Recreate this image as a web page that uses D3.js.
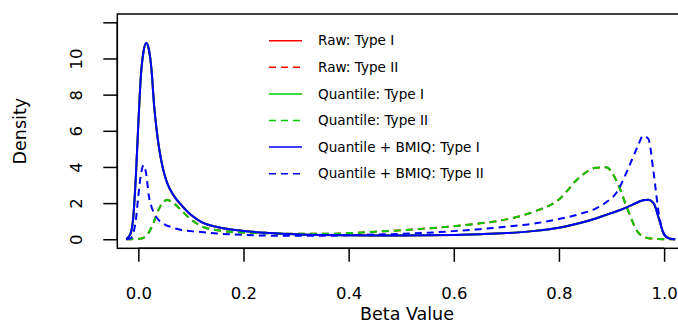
<!DOCTYPE html>
<html>
<head>
<meta charset="utf-8">
<script src="https://cdn.jsdelivr.net/npm/d3@7"></script>
<style>
  html, body { margin: 0; padding: 0; background: #fff; }
  svg { display: block; font-family: "DejaVu Sans", sans-serif; }
</style>
</head>
<body>
<svg id="chart" width="678" height="324"></svg>
<script>
// ---------------- data ----------------
const betaGrid = [-0.023, -0.015, -0.01, -0.005, 0, 0.005, 0.01, 0.015, 0.02, 0.025, 0.03, 0.035, 0.04, 0.045, 0.05, 0.055, 0.06, 0.07, 0.08, 0.1, 0.12, 0.15, 0.2, 0.25, 0.3, 0.35, 0.4, 0.45, 0.5, 0.55, 0.6, 0.65, 0.7, 0.75, 0.8, 0.84, 0.87, 0.89, 0.91, 0.93, 0.95, 0.96, 0.97, 0.98, 0.99, 1.0, 1.01, 1.021];

const bmiqTypeI = [0, 0.3, 1.1, 3.3, 6.4, 9.1, 10.4, 10.85, 10.5, 9.4, 7.4, 6.0, 4.95, 4.15, 3.55, 3.1, 2.78, 2.3, 1.95, 1.35, 0.95, 0.68, 0.46, 0.35, 0.28, 0.24, 0.22, 0.21, 0.21, 0.22, 0.24, 0.28, 0.34, 0.45, 0.64, 0.9, 1.15, 1.35, 1.55, 1.78, 2.05, 2.16, 2.18, 2.0, 1.15, 0.25, 0.04, 0];
const rawTypeI = [0, 0.3, 1.1, 3.3, 6.4, 9.1, 10.4, 10.85, 10.5, 9.4, 7.4, 6.0, 4.95, 4.15, 3.55, 3.1, 2.78, 2.3, 1.95, 1.35, 0.95, 0.68, 0.46, 0.35, 0.28, 0.24, 0.22, 0.21, 0.21, 0.22, 0.24, 0.28, 0.34, 0.45, 0.64, 0.9, 1.15, 1.35, 1.55, 1.78, 2.05, 2.16, 2.18, 2.0, 1.15, 0.25, 0.04, 0];
const quantileTypeI = [0, 0.3, 1.1, 3.3, 6.4, 9.1, 10.4, 10.85, 10.5, 9.4, 7.4, 6.0, 4.95, 4.15, 3.55, 3.1, 2.78, 2.3, 1.95, 1.35, 0.95, 0.68, 0.46, 0.35, 0.28, 0.24, 0.22, 0.21, 0.21, 0.22, 0.24, 0.28, 0.34, 0.45, 0.64, 0.9, 1.15, 1.35, 1.55, 1.78, 2.05, 2.16, 2.18, 2.0, 1.15, 0.25, 0.04, 0];

const rawTypeII = [0, 0, 0.01, 0.01, 0.02, 0.04, 0.08, 0.18, 0.38, 0.65, 1.0, 1.4, 1.72, 1.97, 2.12, 2.17, 2.13, 1.93, 1.65, 1.1, 0.72, 0.5, 0.37, 0.33, 0.3, 0.3, 0.34, 0.42, 0.5, 0.6, 0.72, 0.88, 1.1, 1.5, 2.2, 3.45, 3.95, 3.98, 3.2, 1.7, 0.4, 0.15, 0.06, 0.03, 0.01, 0, 0, 0];
const quantileTypeII = [0, 0, 0.01, 0.01, 0.02, 0.04, 0.08, 0.18, 0.38, 0.65, 1.0, 1.4, 1.72, 1.97, 2.12, 2.17, 2.13, 1.93, 1.65, 1.1, 0.72, 0.5, 0.37, 0.33, 0.3, 0.3, 0.34, 0.42, 0.5, 0.6, 0.72, 0.88, 1.1, 1.5, 2.2, 3.45, 3.95, 3.98, 3.2, 1.7, 0.4, 0.15, 0.06, 0.03, 0.01, 0, 0, 0];
const bmiqTypeII = [0, 0.05, 0.3, 1.0, 2.4, 3.6, 4.1, 3.6, 2.4, 1.8, 1.45, 1.2, 1.02, 0.91, 0.82, 0.75, 0.7, 0.6, 0.53, 0.45, 0.4, 0.32, 0.24, 0.2, 0.19, 0.19, 0.22, 0.26, 0.3, 0.36, 0.45, 0.56, 0.7, 0.86, 1.12, 1.4, 1.7, 2.05, 2.6, 3.8, 5.15, 5.72, 5.55, 3.7, 1.4, 0.3, 0.05, 0];

const seriesNames = ["Raw: Type I", "Raw: Type II", "Quantile: Type I", "Quantile: Type II", "Quantile + BMIQ: Type I", "Quantile + BMIQ: Type II"];
const seriesValues = [rawTypeI, rawTypeII, quantileTypeI, quantileTypeII, bmiqTypeI, bmiqTypeII];
const seriesColors = ["#ff0000", "#ff0000", "#00cd00", "#00cd00", "#0000ff", "#0000ff"];
const seriesDashed = [false, true, false, true, false, true];

const xTicks = [0, 0.2, 0.4, 0.6, 0.8, 1.0];
const xTickLabels = ["0.0", "0.2", "0.4", "0.6", "0.8", "1.0"];
const yTicks = [0, 2, 4, 6, 8, 10, 12];
const yTickLabels = ["0", "2", "4", "6", "8", "10", ""];

// ---------------- layout ----------------
const svg = d3.select("#chart");
const box = { left: 117.3, top: 14, bottom: 248.3, right: 696.7 };
const x = d3.scaleLinear().domain([-0.04, 1.062]).range([box.left, box.right]);
const y = d3.scaleLinear().domain([-0.5, 12.46]).range([box.bottom, box.top]);

svg.append("defs").append("clipPath").attr("id", "clip")
  .append("rect").attr("x", box.left).attr("y", box.top)
  .attr("width", box.right - box.left).attr("height", box.bottom - box.top);

// curves
const line = d3.line().x(d => x(d[0])).y(d => y(d[1])).curve(d3.curveMonotoneX);
const curves = svg.append("g").attr("clip-path", "url(#clip)");
seriesValues.forEach((vals, i) => {
  curves.append("path")
    .datum(betaGrid.map((b, j) => [b, vals[j]]))
    .attr("d", line)
    .attr("fill", "none")
    .attr("stroke", seriesColors[i])
    .attr("stroke-width", 2)
    .attr("stroke-dasharray", seriesDashed[i] ? "7,5" : null);
});

// box
svg.append("rect")
  .attr("x", box.left).attr("y", box.top)
  .attr("width", box.right - box.left).attr("height", box.bottom - box.top)
  .attr("fill", "none").attr("stroke", "#000").attr("stroke-width", 1.5);

// x axis
const xAxis = d3.axisBottom(x).tickValues(xTicks)
  .tickFormat((d, i) => xTickLabels[i]).tickSize(13.5).tickPadding(0).tickSizeOuter(0);
const gx = svg.append("g").attr("transform", `translate(0,${box.bottom})`).call(xAxis);
gx.select(".domain").attr("d", `M${x(0)},0H${x(1)}`).attr("stroke-width", 1.5);
gx.selectAll(".tick line").attr("stroke-width", 1.5);
gx.selectAll(".tick text").attr("font-size", 16.5).attr("font-family", "DejaVu Sans")
  .attr("fill", "#000").attr("dy", null).attr("y", 50.9);

// y axis
const yAxis = d3.axisLeft(y).tickValues(yTicks)
  .tickFormat((d, i) => yTickLabels[i]).tickSize(14).tickPadding(0).tickSizeOuter(0);
const gy = svg.append("g").attr("transform", `translate(${box.left},0)`).call(yAxis);
gy.select(".domain").attr("d", `M0,${y(0)}V${y(12)}`).attr("stroke-width", 1.5);
gy.selectAll(".tick line").attr("stroke-width", 1.5);
gy.selectAll(".tick text").attr("font-size", 16.5).attr("font-family", "DejaVu Sans")
  .attr("fill", "#000").attr("x", null).attr("dy", null)
  .attr("text-anchor", "middle")
  .attr("transform", "translate(-35.3,0) rotate(-90)");

// axis titles
svg.append("text").attr("x", 407).attr("y", 320).attr("text-anchor", "middle")
  .attr("font-size", 17.5).attr("fill", "#000").text("Beta Value");
svg.append("text").attr("transform", `translate(25.9,${(box.top + box.bottom) / 2}) rotate(-90)`)
  .attr("text-anchor", "middle").attr("font-size", 17.5).attr("fill", "#000").text("Density");

// legend
const legend = svg.append("g");
seriesNames.forEach((name, i) => {
  const yy = 40.7 + i * 26.6;
  legend.append("line").attr("x1", 269).attr("x2", 302).attr("y1", yy).attr("y2", yy)
    .attr("stroke", seriesColors[i]).attr("stroke-width", 1.5)
    .attr("stroke-dasharray", seriesDashed[i] ? "7,5" : null);
  legend.append("text").attr("x", 318).attr("y", yy).attr("dy", "0.35em")
    .attr("font-size", 13.6).attr("fill", "#000").text(name);
});
</script>
</body>
</html>
